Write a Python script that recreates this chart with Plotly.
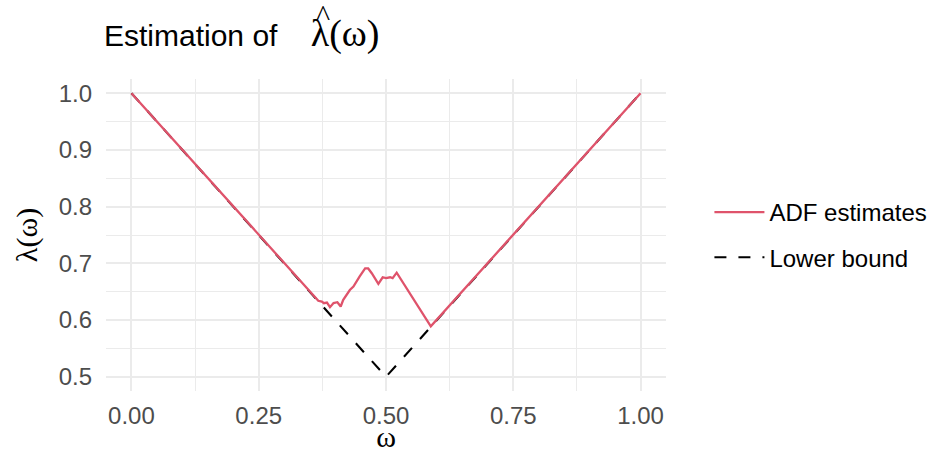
import plotly.graph_objects as go

# ADF estimates
adf_omega = [0.0, 0.367, 0.374, 0.378, 0.384, 0.390, 0.397, 0.4045, 0.411, 0.416,
             0.429, 0.436, 0.448, 0.459, 0.465, 0.472, 0.485, 0.4935, 0.500, 0.508,
             0.513, 0.521, 0.588, 1.0]
adf_lambda = [1.0, 0.634, 0.6326, 0.6297, 0.631, 0.6227, 0.630, 0.6315, 0.624, 0.6356,
              0.653, 0.659, 0.6766, 0.691, 0.691, 0.6826, 0.6637, 0.6755, 0.674, 0.6755,
              0.674, 0.6836, 0.589, 1.0]

# Lower bound
lb_omega = [0.0, 0.5, 1.0]
lb_lambda = [1.0, 0.5, 1.0]

x_ticks = [0.0, 0.25, 0.5, 0.75, 1.0]
y_ticks = [0.5, 0.6, 0.7, 0.8, 0.9, 1.0]

RED = "#DF536B"
SANS = "Liberation Sans"
SERIF = "Liberation Serif"
NB = "\u00a0"

fig = go.Figure()
fig.add_trace(go.Scatter(x=lb_omega, y=lb_lambda, mode="lines", name="Lower bound",
                         line=dict(color="black", width=2.1, dash="12px,12px"),
                         legendrank=2, legendgroup="b"))
fig.add_trace(go.Scatter(x=adf_omega, y=adf_lambda, mode="lines", name="ADF estimates",
                         line=dict(color=RED, width=2.3),
                         legendrank=1, legendgroup="a"))

fig.update_layout(
    width=930, height=453,
    margin=dict(l=105.5, r=263.5, t=79, b=62, autoexpand=False),
    paper_bgcolor="white", plot_bgcolor="white",
    font=dict(family=SANS, color="black"),
    title=dict(text=f"Estimation of{NB * 4}<span style='font-family:{SERIF};font-size:38px'>λ(ω)</span>",
               x=104 / 930, xanchor="left", y=1 - 35 / 453, yanchor="middle",
               font=dict(size=30, color="black")),
    annotations=[dict(text="^", xref="paper", yref="paper",
                      x=(323 - 105.5) / 561, y=(391 - 15) / 312,
                      xanchor="center", yanchor="middle", showarrow=False,
                      font=dict(family=SERIF, size=30, color="black"))],
    showlegend=True,
    legend=dict(x=(710 - 105.5) / 561, xanchor="left", y=0.5, yanchor="middle",
                font=dict(size=24, color="black"), tracegroupgap=11,
                itemwidth=50, bgcolor="rgba(0,0,0,0)"),
    xaxis=dict(range=[-0.05, 1.05], tickvals=x_ticks, tickformat=".2f",
               showgrid=True, gridcolor="#EBEBEB", gridwidth=2,
               minor=dict(dtick=0.125, tick0=0, showgrid=True, gridcolor="#EBEBEB", gridwidth=1),
               zeroline=False, showline=False, ticks="", ticklabelstandoff=8,
               automargin=False,
               tickfont=dict(size=24, color="#4D4D4D"),
               title=dict(text="ω", font=dict(family=SERIF, size=30, color="black"), standoff=9)),
    yaxis=dict(range=[0.475, 1.025], tickvals=y_ticks, tickformat=".1f",
               showgrid=True, gridcolor="#EBEBEB", gridwidth=2,
               minor=dict(dtick=0.05, tick0=0, showgrid=True, gridcolor="#EBEBEB", gridwidth=1),
               zeroline=False, showline=False, ticks="", ticklabelstandoff=13,
               automargin=False,
               tickfont=dict(size=24, color="#4D4D4D"),
               title=dict(text="λ(ω)", font=dict(family=SERIF, size=30, color="black"), standoff=12)),
)

fig.write_html("out.html", config={"displayModeBar": False},
               post_script="document.body.style.margin='0';")
